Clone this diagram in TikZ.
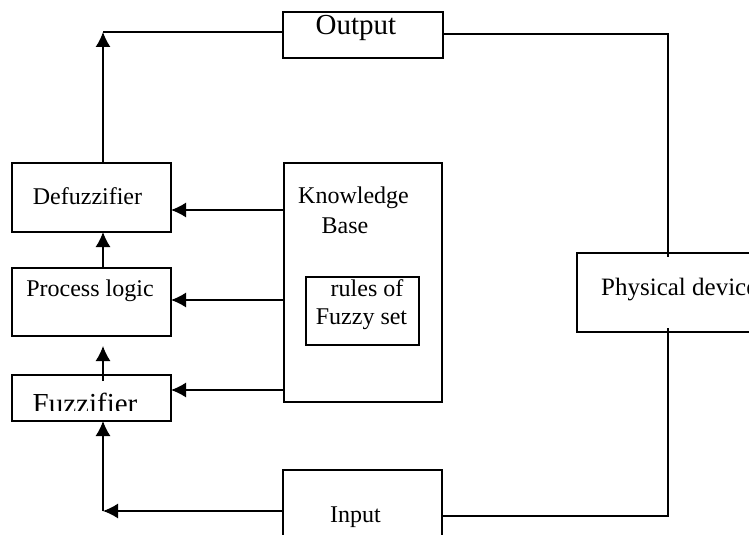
\documentclass[tikz,border=0pt]{standalone}
\usepackage{fontspec}
\setmainfont{Liberation Serif}
\usetikzlibrary{arrows.meta}
\begin{document}
\begin{tikzpicture}[x=1pt,y=-1pt,
  box/.style={draw, line width=1.4pt, inner sep=0pt, outer sep=0pt, rectangle},
  txt/.style={font=\fontsize{24pt}{26pt}\selectfont, inner sep=0pt, anchor=base},
  bigtxt/.style={font=\fontsize{29pt}{31pt}\selectfont, inner sep=0pt, anchor=base},
  wire/.style={line width=1.4pt},
  arr/.style={line width=1.4pt, -{Latex[length=15pt,width=15pt]}}]
\useasboundingbox (0,0) rectangle (749,535);
\clip (0,0) rectangle (749,535);
% boxes
\node[box, minimum width=160pt, minimum height=46pt] (out) at (363,35) {};
\node[box, minimum width=159pt, minimum height=69pt] (def) at (91.5,197.5) {};
\node[box, minimum width=159pt, minimum height=68pt] (proc) at (91.5,302) {};
\node[box, minimum width=159pt, minimum height=46pt] (fuz) at (91.5,398) {};
\node[box, minimum width=158pt, minimum height=239pt] (kb) at (363,282.5) {};
\node[box, minimum width=113pt, minimum height=68pt] (rules) at (362.5,311) {};
\node[box, minimum width=200pt, minimum height=79pt] (phys) at (677,292.5) {};
\node[box, minimum width=159pt, minimum height=100pt] (inp) at (362.5,520) {};
% texts
\node[bigtxt] (outt) at (356,35) {Output};
\node[txt] (deft) at (87.5,204) {Defuzzifier};
\node[txt] (proct) at (90,296) {Process logic};
\begin{scope}
\clip (12,375) rectangle (171,410);
\node[bigtxt] (fuzt) at (85,413) {Fuzzifier};
\end{scope}
\node[txt] (kbt1) at (353.5,203) {Knowledge};
\node[txt] (kbt2) at (345,233) {Base};
\node[txt] (rt1) at (367,296) {rules of};
\node[txt] (rt2) at (361.5,324) {Fuzzy set};
\node[txt, anchor=base west, font=\fontsize{25pt}{27pt}\selectfont] (physt) at (601,295) {Physical device};
\node[txt] (inpt) at (355.5,522) {Input};
% coordinates
\coordinate (tl) at (103,32);
\coordinate (tr) at (668,34);
\coordinate (bl) at (103,511);
\coordinate (br) at (668,516);
% connectors
\draw[wire] (out.west |- tl) -- (tl);
\draw[arr] (def.north -| tl) -- (tl);
\draw[wire] (out.east |- tr) -- (tr) -- ([yshift=-4pt]phys.north -| tr);
\draw[wire] ([yshift=4pt]phys.south -| br) -- (br) -- (inp.east |- br);
\draw[arr] (inp.west |- bl) -- (bl);
\draw[wire] (bl) -- ++(0,-2);
\draw[arr] (bl) -- (fuz.south -| bl);
\draw[arr] ([yshift=-6pt]fuz.north -| tl) -- ([yshift=-10pt]proc.south -| tl);
\draw[arr] (proc.north -| tl) -- (def.south -| tl);
\draw[arr] (kb.west |- 0,210) -- (def.east |- 0,210);
\draw[arr] (kb.west |- 0,300) -- (proc.east |- 0,300);
\draw[arr] (kb.west |- 0,390) -- (fuz.east |- 0,390);
\end{tikzpicture}
\end{document}
